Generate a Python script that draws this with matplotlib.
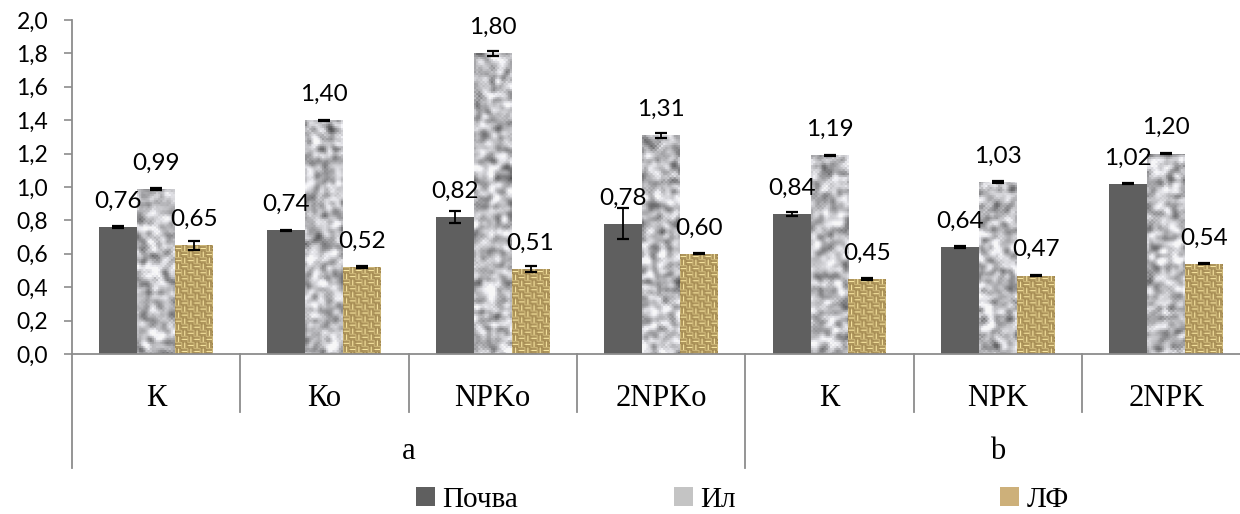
import numpy as np
import matplotlib
matplotlib.use("Agg")
import matplotlib.pyplot as plt
from matplotlib.patches import Patch

categories = ["К", "Ко", "NPKо", "2NPKо", "К", "NPK", "2NPK"]
groups = ["a", "b"]
group_sizes = [4, 3]
series = ["Почва", "Ил", "ЛФ"]

pochva = [0.76, 0.74, 0.82, 0.78, 0.84, 0.64, 1.02]
il = [0.99, 1.40, 1.80, 1.31, 1.19, 1.03, 1.20]
lf = [0.65, 0.52, 0.51, 0.60, 0.45, 0.47, 0.54]

pochva_err = [0.005, 0.004, 0.035, 0.094, 0.012, 0.004, 0.005]
il_err = [0.006, 0.004, 0.016, 0.016, 0.004, 0.004, 0.004]
lf_err = [0.028, 0.004, 0.016, 0.004, 0.004, 0.004, 0.004]

labels_val = [[f"{v:.2f}".replace(".", ",") for v in s] for s in (pochva, il, lf)]

SANS = ["Lato", "DejaVu Sans"]
SERIF = ["Liberation Serif", "DejaVu Serif"]

PX_X = 168.4   # screen px per group
PX_Y = 167.0   # screen px per unit


def granite(h, w, seed):
    # grey stone-like texture for the "Ил" bars (styling only, not data)
    rng = np.random.default_rng(seed)
    n = rng.random((h // 2 + 12, w // 2 + 12))
    for _ in range(3):
        n = (n + np.roll(n, 1, 0) + np.roll(n, -1, 0) + np.roll(n, 1, 1) + np.roll(n, -1, 1)) / 5
    n = n[6:-6, 6:-6]
    n = np.repeat(np.repeat(n, 2, axis=0), 2, axis=1)
    n = (n - n.mean()) / (n.std() + 1e-9)
    g = 0.74 + 0.12 * n
    return np.dstack([g, g, g * 1.02]).clip(0.3, 0.97)


def burlap(h, w):
    # woven tan texture for the "ЛФ" bars
    i, j = np.mgrid[0:h, 0:w]
    block = ((i // 6) + (j // 6)) % 2
    v = np.where(block == 0, 0.5 + 0.5 * np.cos(2 * np.pi * i / 3), 0.5 + 0.5 * np.cos(2 * np.pi * j / 3))
    edge = ((i % 6 == 0) | (j % 6 == 0)).astype(float)
    v = 0.25 + 0.75 * v * (1 - 0.45 * edge)
    dark = np.array([0.45, 0.33, 0.14])
    light = np.array([0.98, 0.91, 0.64])
    return dark + (light - dark) * v[..., None]


fig = plt.figure(figsize=(12.4, 5.14), dpi=100)
ax = fig.add_axes([71.7 / 1240, 1 - 354 / 514, 1 - 71.7 / 1240, (354 - 20) / 514])

x = np.arange(len(categories))
bw = 0.225
offsets = [-bw, 0, bw]
all_vals = [pochva, il, lf]
all_errs = [pochva_err, il_err, lf_err]

for k, (vals, errs) in enumerate(zip(all_vals, all_errs)):
    xs = x + offsets[k]
    if k == 0:
        bars = ax.bar(xs, vals, bw, color="#5f5f5f", zorder=2)
    else:
        bars = ax.bar(xs, vals, bw, color="none", zorder=2)
        for n, b in enumerate(bars):
            h_px = max(int(b.get_height() * PX_Y), 4)
            w_px = int(bw * PX_X)
            tex = granite(h_px, w_px, 10 + n) if k == 1 else burlap(h_px, w_px)
            im = ax.imshow(tex, extent=[b.get_x(), b.get_x() + bw, 0, b.get_height()],
                           aspect="auto", interpolation="bilinear", zorder=2)
            im.set_clip_path(b)
    ax.errorbar(xs, vals, yerr=errs, fmt="none", ecolor="black", elinewidth=1.3,
                capsize=4, capthick=1.6, zorder=4)
    for xi, v, t in zip(xs, vals, labels_val[k]):
        ax.annotate(t, (xi, v), xytext=(0, 11), textcoords="offset points",
                    ha="center", va="bottom", fontsize=17.5, family=SANS, zorder=5)

ax.set_xlim(-0.5, -0.5 + (1240 - 71.7) / PX_X)
ax.set_ylim(0, 2.0)
ax.set_yticks(np.arange(0, 2.01, 0.2))
ax.set_yticklabels([f"{t:.1f}".replace(".", ",") for t in np.arange(0, 2.01, 0.2)],
                   family=SANS, fontsize=16.5)
ax.set_xticks([])
ax.tick_params(axis="y", length=6, width=1.2, color="#8c8c8c", pad=11)
for s in ["top", "right"]:
    ax.spines[s].set_visible(False)
for s in ["left", "bottom"]:
    ax.spines[s].set_color("#8c8c8c")
    ax.spines[s].set_linewidth(1.3)

# multi-level category axis
trans = ax.get_xaxis_transform()
y_cat = -0.132
y_grp = -0.293
y_sep1 = -0.174
y_sep2 = -0.341
for xi, c in zip(x, categories):
    ax.text(xi, y_cat, c, transform=trans, ha="center", va="center",
            fontsize=22, family=SERIF)
group_edges = np.cumsum([0] + group_sizes) - 0.5
for xb in np.arange(-0.5, len(categories), 1.0):
    bottom = y_sep2 if xb in group_edges else y_sep1
    ax.plot([xb, xb], [0, bottom], transform=trans, color="#8c8c8c", lw=1.3, clip_on=False)
for g, a, b in zip(groups, group_edges[:-1], group_edges[1:]):
    ax.text((a + b) / 2, y_grp, g, transform=trans, ha="center", va="center",
            fontsize=22, family=SERIF)

# legend, one entry at a time to keep Excel-like spacing
legend_colors = ["#5f5f5f", "#c4c4c4", "#cdb07a"]
legend_x = [416 / 1240, 674 / 1240, 1000 / 1240]
for name, col, lx in zip(series, legend_colors, legend_x):
    leg = fig.legend(handles=[Patch(facecolor=col, edgecolor="none")], labels=[name],
                     loc="center left", bbox_to_anchor=(lx, 1 - 500 / 514), frameon=False,
                     handlelength=0.65, handleheight=0.65, handletextpad=0.25,
                     prop={"family": SERIF, "size": 21}, borderaxespad=0, borderpad=0)

fig.savefig("out.png", dpi=100)
